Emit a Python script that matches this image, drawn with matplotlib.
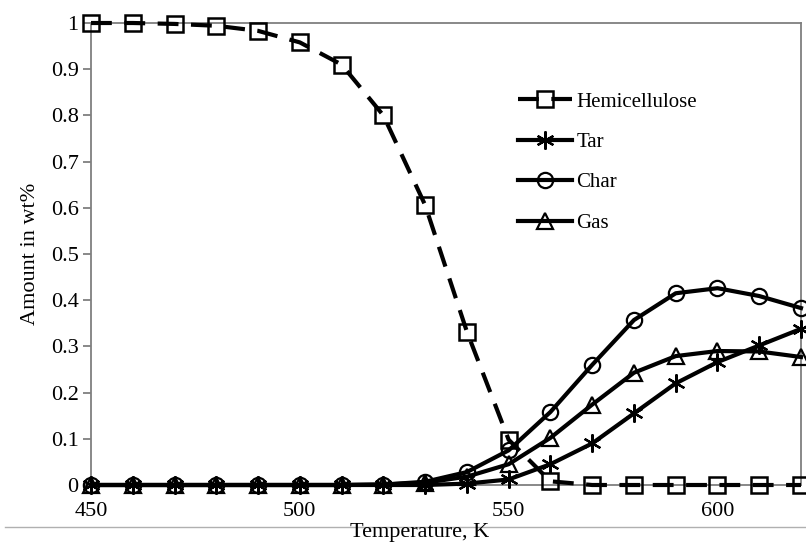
import matplotlib
matplotlib.use("Agg")
import matplotlib.pyplot as plt
from matplotlib.lines import Line2D

temperature = [450, 460, 470, 480, 490, 500, 510, 520, 530, 540, 550, 560, 570, 580, 590, 600, 610, 620]
hemicellulose = [1.0, 1.0, 0.998, 0.994, 0.983, 0.958, 0.91, 0.80, 0.606, 0.332, 0.098, 0.008, 0.0, 0.0, 0.0, 0.0, 0.0, 0.0]
tar = [0.0, 0.0, 0.0, 0.0, 0.0, 0.0, 0.0, 0.0, 0.0, 0.003, 0.012, 0.045, 0.09, 0.155, 0.22, 0.266, 0.302, 0.338]
char = [0.0, 0.0, 0.0, 0.0, 0.0, 0.0, 0.0, 0.001, 0.007, 0.028, 0.075, 0.158, 0.26, 0.357, 0.415, 0.426, 0.409, 0.383]
gas = [0.0, 0.0, 0.0, 0.0, 0.0, 0.0, 0.0, 0.001, 0.005, 0.018, 0.045, 0.102, 0.174, 0.243, 0.279, 0.29, 0.289, 0.277]

xticks = [450, 500, 550, 600]
yticks = [0, 0.1, 0.2, 0.3, 0.4, 0.5, 0.6, 0.7, 0.8, 0.9, 1]
ytick_labels = ["0", "0.1", "0.2", "0.3", "0.4", "0.5", "0.6", "0.7", "0.8", "0.9", "1"]

plt.rcParams['font.family'] = ['Liberation Serif', 'DejaVu Serif']

fig = plt.figure(figsize=(8.06, 5.42), dpi=100)
ax = fig.add_axes([91/806, 1-485/542, (801-91)/806, (485-23)/542])

lw = 3.0
ax.plot(temperature, hemicellulose, color='black', lw=lw, ls=(0, (5, 3)),
        marker='s', ms=11, mfc='none', mec='black', mew=1.8, label='Hemicellulose', clip_on=False, zorder=3)
ax.plot(temperature, tar, color='black', lw=lw, marker=(6, 2, 0), ms=13, mec='black', mew=1.6,
        label='Tar', clip_on=False, zorder=3)
ax.plot(temperature, char, color='black', lw=lw, marker='o', ms=11, mfc='none', mec='black', mew=1.6,
        label='Char', clip_on=False, zorder=3)
ax.plot(temperature, gas, color='black', lw=lw, marker='^', ms=11, mfc='none', mec='black', mew=1.6,
        label='Gas', clip_on=False, zorder=3)

ax.set_xlim(450, 620)
ax.set_ylim(0, 1)
ax.set_xticks(xticks)
ax.set_xticklabels([str(t) for t in xticks], fontsize=16)
ax.set_yticks(yticks)
ax.set_yticklabels(ytick_labels, fontsize=16)

for s in ['top', 'right', 'left', 'bottom']:
    ax.spines[s].set_color('#7f7f7f')
    ax.spines[s].set_linewidth(1.3)
ax.tick_params(axis='y', direction='out', length=6, width=1.3, color='#7f7f7f', pad=3)
ax.tick_params(axis='x', direction='out', length=0, pad=12)

ax.set_ylabel('Amount in wt%', fontsize=16, labelpad=8)
fig.text(420/806, 1-532/542, 'Temperature, K', fontsize=16, ha='center', va='center')

fig.add_artist(Line2D([5/806, 1.0], [1-527/542, 1-527/542], color='#b0b0b0', lw=1.0))

leg = ax.legend(loc='upper left', frameon=False, fontsize=15, handlelength=2.6,
                labelspacing=1.0, handletextpad=0.2, borderaxespad=0, borderpad=0)
leg.set_bbox_to_anchor((518/806, 1-92/542), transform=fig.transFigure)

fig.savefig('out.png', dpi=100)
